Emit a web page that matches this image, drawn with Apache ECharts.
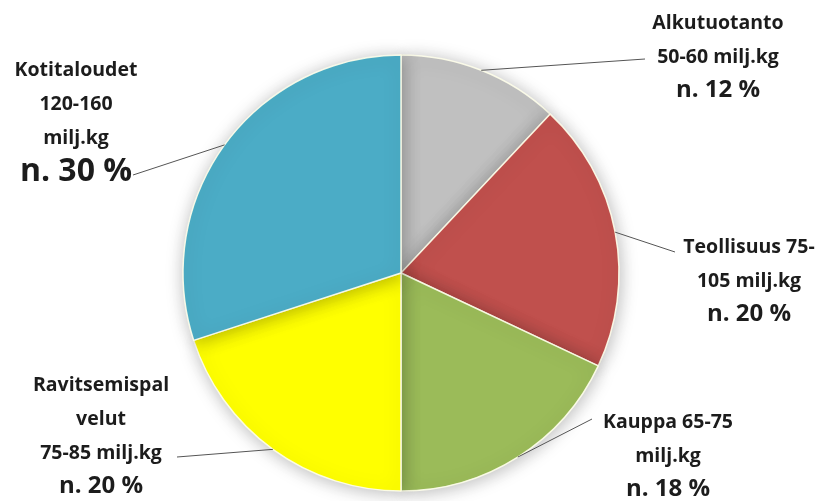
<!DOCTYPE html>
<html>
<head>
<meta charset="utf-8">
<script src="https://cdn.jsdelivr.net/npm/echarts@6/dist/echarts.min.js"></script>
<style>
  html, body { margin: 0; padding: 0; background: #ffffff; }
  #chart { width: 828px; height: 501px; }
</style>
</head>
<body>
<div id="chart"></div>
<script>
// Food waste by sector (share of total, %)
const sectors = ['Alkutuotanto', 'Teollisuus', 'Kauppa', 'Ravitsemispalvelut', 'Kotitaloudet'];
const shares = [12, 20, 18, 20, 30];
const amountText = [
  'Alkutuotanto\n50-60 milj.kg',
  'Teollisuus 75-\n105 milj.kg',
  'Kauppa 65-75\nmilj.kg',
  'Ravitsemispal\nvelut\n75-85 milj.kg',
  'Kotitaloudet\n120-160\nmilj.kg'
];
const colors = ['#c0c0c0', '#c0504d', '#9bbb59', '#ffff00', '#4bacc6'];

// pie geometry
const CX = 401, CY = 273, R = 218;

// centre of each text block, and where its leader line ends
const labelSpots = [
  { x: 718, y: 56 },
  { x: 749, y: 280 },
  { x: 668, y: 455 },
  { x: 101, y: 435 },
  { x: 76, y: 121 }
];
const leaderEnds = [
  [645, 59],
  [675, 252],
  [592, 419],
  [177, 457],
  [133, 175]
];

// leader lines start on the rim at the middle angle of each slice
const total = shares.reduce((a, b) => a + b, 0);
let acc = 0;
const leaders = shares.map((v, i) => {
  const mid = (acc + v / 2) / total * 2 * Math.PI;
  acc += v;
  const sx = CX + R * Math.sin(mid);
  const sy = CY - R * Math.cos(mid);
  return {
    type: 'line',
    z: 5,
    shape: { x1: sx, y1: sy, x2: leaderEnds[i][0], y2: leaderEnds[i][1] },
    style: { stroke: '#555555', lineWidth: 1 }
  };
});

const font = 'Open Sans';
const chart = echarts.init(document.getElementById('chart'), null, { renderer: 'canvas' });

chart.setOption({
  animation: false,
  graphic: leaders,
  series: [{
    type: 'pie',
    center: [CX, CY],
    radius: R,
    startAngle: 90,
    clockwise: true,
    data: sectors.map((s, i) => ({
      name: s,
      value: shares[i],
      itemStyle: { color: colors[i] },
      label: {
        formatter: () => '{a|' + amountText[i] + '}\n{b|n. ' + shares[i] + ' %}',
        rich: {
          a: { fontSize: 19.5, lineHeight: 34, fontWeight: 700, fontFamily: font, color: '#1c1c1c' },
          b: { fontSize: i === 4 ? 32 : 24, lineHeight: i === 4 ? 33 : 31, fontWeight: 700, fontFamily: font, color: '#1c1c1c' }
        }
      }
    })),
    itemStyle: {
      borderColor: 'rgba(255,255,235,0.9)',
      borderWidth: 1.5,
      shadowBlur: 18,
      shadowColor: 'rgba(0,0,0,0.28)',
      shadowOffsetX: 1,
      shadowOffsetY: 2
    },
    label: {
      show: true,
      position: 'outside',
      align: 'center',
      fontWeight: 700,
      fontFamily: font
    },
    labelLine: { show: false },
    labelLayout: params => ({
      x: labelSpots[params.dataIndex].x,
      y: labelSpots[params.dataIndex].y,
      align: 'center',
      verticalAlign: 'middle'
    })
  }]
});
</script>
</body>
</html>
